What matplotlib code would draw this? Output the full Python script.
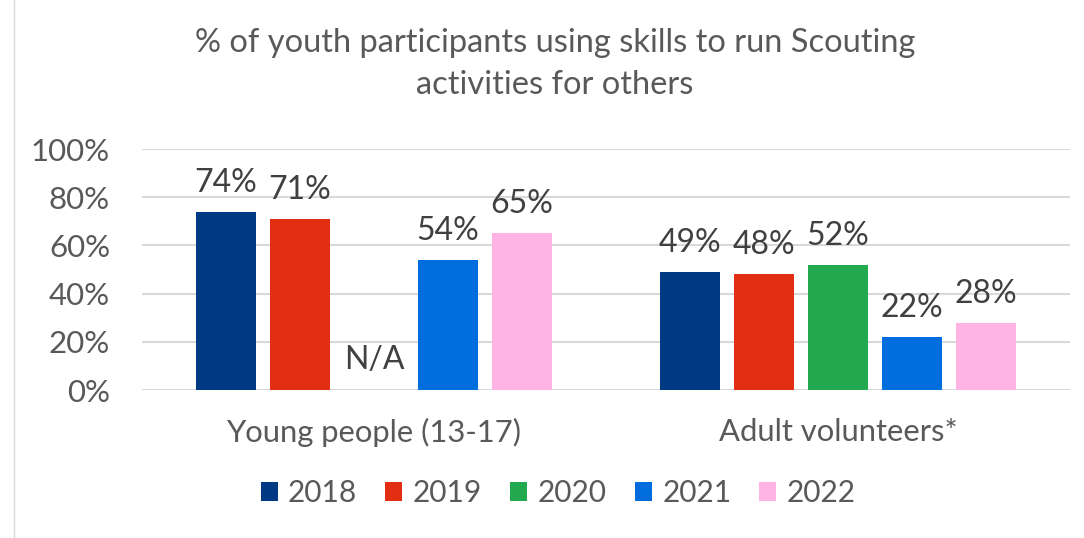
import numpy as np
import matplotlib.pyplot as plt
from matplotlib.patches import Rectangle

categories = ['Young people (13-17)', 'Adult volunteers*']
years = ['2018', '2019', '2020', '2021', '2022']
colors = ['#003A84', '#E22E12', '#23A950', '#006DDF', '#FFB4E5']
# percentages per year, one entry per category (nan = not available)
v2018 = [74, 49]
v2019 = [71, 48]
v2020 = [np.nan, 52]
v2021 = [54, 22]
v2022 = [65, 28]
series = [v2018, v2019, v2020, v2021, v2022]
yticks = [0, 20, 40, 60, 80, 100]

plt.rcParams['font.family'] = ['Lato', 'DejaVu Sans']

fig = plt.figure(figsize=(10.84, 5.38), dpi=100)
ax = fig.add_axes([0.131, 0.275, 0.856, 0.448])

slot = 0.1595
width = 0.129
x = np.arange(len(categories))
for i, (year, vals, c) in enumerate(zip(years, series, colors)):
    pos = x + (i - 2) * slot
    ax.bar(pos, np.nan_to_num(vals), width, color=c, label=year, zorder=3)
    for p, v in zip(pos, vals):
        if np.isnan(v):
            ax.annotate('N/A', (p, 0), xytext=(0, 11), textcoords='offset points',
                        ha='center', va='bottom', fontsize=23, color='#404040')
        else:
            ax.annotate(f'{v:.0f}%', (p, v), xytext=(0, 10), textcoords='offset points',
                        ha='center', va='bottom', fontsize=23, color='#404040')

ax.set_xlim(-0.5, 1.5)
ax.set_ylim(0, 100)
ax.set_yticks(yticks)
ax.set_yticklabels([f'{t}%' for t in yticks], fontsize=22.5, color='#595959')
ax.set_xticks(x)
ax.set_xticklabels(categories, fontsize=22.3, color='#595959')
ax.tick_params(length=0)
ax.tick_params(axis='y', pad=23)
ax.tick_params(axis='x', pad=20)
ax.yaxis.grid(True, color='#D9D9D9', linewidth=1.5, zorder=0)
ax.set_axisbelow(True)
for s in ax.spines.values():
    s.set_visible(False)

fig.text(0.512, 1 - 43 / 538, '% of youth participants using skills to run Scouting',
         ha='center', va='center', fontsize=23.5, color='#595959')
fig.text(0.512, 1 - 85 / 538, 'activities for others',
         ha='center', va='center', fontsize=23.5, color='#595959')

ax.legend(loc='center', bbox_to_anchor=(0.515, 1 - 493 / 538), bbox_transform=fig.transFigure,
          ncol=5, frameon=False, fontsize=21.5, handlelength=0.57, handleheight=0.57,
          handletextpad=0.35, columnspacing=0.94, labelcolor='#595959')

fig.patches.append(Rectangle((14 / 1084, -0.1), 1.2, 1.2, transform=fig.transFigure,
                             fill=False, edgecolor='#D9D9D9', linewidth=1))

fig.savefig('out.png', dpi=100)
